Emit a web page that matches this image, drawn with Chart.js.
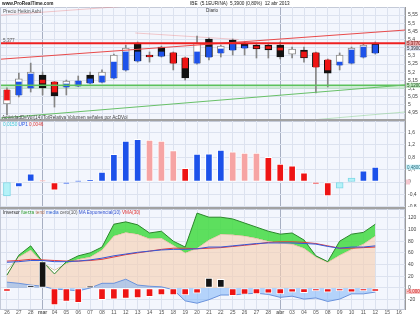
<!DOCTYPE html>
<html><head><meta charset="utf-8">
<script src="https://cdn.jsdelivr.net/npm/chart.js@4.4.1/dist/chart.umd.min.js"></script>
<style>
html,body{margin:0;padding:0;background:#fff;width:420px;height:315px;overflow:hidden;font-family:"Liberation Sans",Arial,sans-serif;}
canvas{position:absolute;left:0;}
.t{position:absolute;white-space:nowrap;font-size:6px;line-height:6px;color:#444;z-index:5;transform:scale(0.78);transform-origin:0 0;}
.sep{position:absolute;left:0;width:406px;height:2px;background:#a2a2a2;z-index:4;}
</style></head><body>
<canvas id="c1" width="420" height="119" style="top:0px"></canvas>
<canvas id="c2" width="420" height="86" style="top:121px"></canvas>
<canvas id="c3" width="420" height="106" style="top:209px"></canvas>
<div class="sep" style="top:119px"></div>
<div class="sep" style="top:207px"></div>
<div class="t" style="left:2px;top:1px;font-weight:bold;color:#222">www.ProRealTime.com</div>
<div class="t" style="left:190px;top:1px;color:#222">IBE &nbsp;(5.1EUR/NA) &nbsp;5,3900 (0,80%) &nbsp;12 abr 2013</div>
<div class="t" style="left:206px;top:8px;color:#333">Diario</div>
<div class="t" style="left:3px;top:9px;color:#555">Precio Heikin Ashi</div>
<div class="t" style="left:3px;top:38px;color:#555">5,377</div>
<div class="t" style="left:2px;top:115px;color:#444">ActividadDeVol(14) TotRelativa Volumen señales por AcDVol</div>
<div class="t" style="left:3px;top:122px"><span style="color:#40c8d8">0,0150</span> <span style="color:#2050e0">UP1</span> <span style="color:#e04040">0,0046</span></div>
<div class="t" style="left:3px;top:210px"><span style="color:#222">Inversor</span> <span style="color:#2a9a2a">fuerza</span> <span style="color:#b07050">tend</span> <span style="color:#3060d0">media</span> <span style="color:#555">cero(10)</span> <span style="color:#3050d0">MA Exponencial(10)</span> <span style="color:#e03030">VMA(30)</span></div>
<script>
// ---------- data ----------
const categories = ['26','27','28','mar','04','05','06','07','08','11','12','13','14','15','18','19','20','21','22','25','26','27','28','abr','03','04','05','08','09','10','11','12','15','16'];

const haOpen   = [5.006,5.061,5.104,5.183,5.140,5.110,5.116,5.183,5.140,5.165,5.214,5.379,5.305,5.354,5.318,5.287,5.256,5.403,5.318,5.397,5.379,5.366,5.366,5.366,5.311,5.336,5.318,5.275,5.244,5.256,5.293,5.379,null,null];
const haClose  = [5.091,5.159,5.201,5.104,5.055,5.146,5.146,5.134,5.201,5.305,5.348,5.269,5.293,5.299,5.256,5.165,5.379,5.293,5.360,5.336,5.348,5.342,5.336,5.293,5.342,5.287,5.232,5.195,5.305,5.348,5.366,5.318,null,null];
const priceOpen  = [5.091,5.061,5.104,5.152,5.140,5.110,5.116,5.134,5.140,5.165,5.214,5.269,5.302,5.299,5.318,5.287,5.256,5.293,5.318,5.336,5.348,5.357,5.357,5.348,null,5.324,5.318,5.275,5.244,5.256,5.293,5.318,null,null];
const priceClose = [5.030,5.140,5.189,5.134,5.079,5.128,5.146,5.159,5.177,5.262,5.324,5.324,5.296,5.324,5.256,5.226,5.324,5.354,5.342,5.379,5.360,5.348,5.345,5.336,null,5.293,5.232,5.214,5.262,5.336,5.354,5.366,null,null];
const priceHigh  = [5.104,5.195,5.256,5.201,5.143,5.152,5.177,5.201,5.214,5.311,5.366,5.385,5.324,5.360,5.324,5.293,5.421,5.409,5.366,5.403,5.385,5.372,5.372,5.385,5.354,5.354,5.324,5.281,5.318,5.354,5.372,5.385,null,null];
const priceLow   = [4.939,5.049,5.079,5.061,4.987,5.061,5.112,5.128,5.134,5.159,5.207,5.262,5.262,5.293,5.214,5.152,5.250,5.275,5.293,5.305,5.305,5.287,5.287,5.281,5.287,5.262,5.073,5.110,5.214,5.250,5.287,5.311,null,null];

const lastPrice = 5.39;
const resistanceLevel = 5.377;
const supportLevel = 5.12;
const supportBandLow = 5.098;
// trend lines: price at left edge, price at right edge of the plot
const trendUpper   = [5.28, 5.458];
const channelUpper = [5.549, 5.727];
const trendLower   = [4.92, 5.122];
const channelLower = [4.745, 4.957];
// short line: [category index, price] anchors
const shortLine    = [[10.8, 5.44], [19.5, 5.40]];

const priceTicks = {min: 4.914, max: 5.599, step: 0.05};

const histValues = [-0.45,-0.16,0.26,0.06,-0.26,-0.06,0.04,0.07,0.32,0.89,1.32,1.38,1.35,1.32,1.01,0.44,0.90,0.91,1.03,0.97,0.93,0.93,0.80,0.58,0.52,0.30,-0.06,-0.45,-0.20,0.13,0.36,0.48,null,null];
const histSignal = ['u','U','U','d','D','U','U','U','U','U','U','U','d','d','d','D','U','U','U','d','d','d','D','D','D','D','D','D','u','u','U','U',null,null];
const histTicks = {min: -0.806, max: 1.968, step: 0.2};

const fuerza    = [22,56,72,45,24,45,55,60,70,109,113,108,94,97,80,70,128,121,121,118,111,104,97,92,94,82,55,45,80,92,95,109,null,null];
const tendencia = [30,53,65,43,30,42,49,53,65,89,95,92,84,85,73,60,68,82,92,91,89,85,80,77,75,68,53,44,56,66,75,89,null,null];
const mediaExp  = [44,45,47,47,45,45,46,48,51,55,58,61,63,65,66,66,67,70,70,72,74,76,77,77,77,76,75,71,68,70,70,72,null,null];
const vma30     = [46,47,49,48,47,46,46,47,49,53,57,60,63,66,68,68,67,68,69,71,73,75,78,79,79,78,76,72,68,68,69,70,null,null];
const cero      = [10,8,5,3,-2,-3,-5,0,8,8,15,5,3,2,-3,-22,-26,-20,-12,-12,-10,-9,-11,-16,-14,-19,-17,-23,-19,-10,-10,-7,null,null];
const inversor  = [-6,null,4,45,-29,-23,-25,3,-20,-19,-18,-17,-15,-12,-12,-12,-9,17,15,-13,-11,-10,-9,-10,-7,-8,-5,-7,-5,-7,-5,-6,null,null];
const trendTicks = {min: -35.9, max: 135, step: 20};

// ---------- helpers ----------
const N = categories.length;
const FONT = '"Liberation Sans", Arial, sans-serif';
Chart.defaults.font.family = FONT;
const isMonth = i => isNaN(Number(categories[i]));
const fmt = (v, d) => Number(v.toFixed(d)).toString().replace('.', ',');
const fmtFixed = (v, d) => v.toFixed(d).replace('.', ',');
const lastIdx = arr => { let k = -1; arr.forEach((v,i)=>{ if (v!=null) k=i; }); return k; };

function xAxis(showLabels){
  return {
    type:'category', offset:true,
    grid:{offset:false, drawTicks:false, color: c => (c.index!=null && isMonth(c.index)) ? '#a7afc2' : '#dce2ef', lineWidth:1},
    border:{display:false},
    ticks:{display:showLabels, autoSkip:false, maxRotation:0, minRotation:0, padding:1,
      font: c => ({size:5, family:FONT, weight: (c.index!=null && isMonth(c.index)) ? 'bold':'normal'}), color:'#555'},
    afterFit: s => { s.height = showLabels ? 6 : 0; s.paddingLeft = 0; s.paddingRight = 0; }
  };
}
function yAxis(t, decimals){
  return {
    position:'right', min:t.min, max:t.max,
    ticks:{stepSize:t.step, includeBounds:false, padding:3, font:{size:5, family:FONT}, color:'#444',
      callback: v => fmt(v, decimals)},
    grid:{drawTicks:false, color:'#dce2ef'},
    border:{display:true, color:'#9a9a9a'},
    afterFit: s => { s.width = 15; s.paddingTop = 0; s.paddingBottom = 0; }
  };
}
const bgPlugin = {id:'bg', beforeDraw(ch){
  const a = ch.chartArea, c = ch.ctx; c.save();
  c.fillStyle = '#f3f6fd'; c.fillRect(a.left, a.top, a.right-a.left, a.bottom-a.top);
  c.strokeStyle = '#c4cad8'; c.lineWidth = 1; c.strokeRect(a.left-0.5, a.top+0.5, a.right-a.left, a.bottom-a.top);
  c.restore();
}};
const boxPlugin = {id:'boxes', afterDraw(ch, args, opts){
  const y = ch.scales.y, c = ch.ctx, x0 = ch.chartArea.right + 1;
  let prevBottom = null;
  (opts.items||[]).forEach(it => {
    let py = (it.below && prevBottom!=null) ? prevBottom + 2.5 : y.getPixelForValue(it.value);
    const w = it.w || 14, h = 5;
    c.save();
    c.fillStyle = it.bg; c.fillRect(x0, py - h/2, w, h);
    if (it.text){ c.fillStyle = it.fg; c.font = '4.5px ' + FONT; c.textBaseline = 'middle'; c.fillText(it.text, x0 + 1, py + 0.3); }
    c.restore();
    prevBottom = py + h/2;
  });
}};
// price lines drawn through the chart's own scales
function strokeEdgeLine(ch, vals, color, width){
  const a = ch.chartArea, y = ch.scales.y, c = ch.ctx;
  c.save(); c.beginPath(); c.rect(a.left, a.top, a.right-a.left, a.bottom-a.top); c.clip();
  c.strokeStyle = color; c.lineWidth = width; c.beginPath();
  c.moveTo(a.left, y.getPixelForValue(vals[0])); c.lineTo(a.right, y.getPixelForValue(vals[1])); c.stroke();
  c.restore();
}
const levelsPlugin = {id:'levels',
  beforeDatasetsDraw(ch){
    const a = ch.chartArea, y = ch.scales.y, c = ch.ctx;
    const y1 = y.getPixelForValue(supportLevel), y2 = y.getPixelForValue(supportBandLow);
    c.save(); c.fillStyle = 'rgba(140,215,140,0.35)'; c.fillRect(a.left, y1, a.right-a.left, y2-y1); c.restore();
    strokeEdgeLine(ch, channelUpper, 'rgba(235,110,110,0.35)', 1);
    strokeEdgeLine(ch, channelLower, 'rgba(110,200,110,0.4)', 1);
    const x = ch.scales.x;
    c.save(); c.strokeStyle = 'rgba(235,110,110,0.35)'; c.lineWidth = 1; c.beginPath();
    c.moveTo(x.getPixelForValue(shortLine[0][0]), y.getPixelForValue(shortLine[0][1]));
    c.lineTo(x.getPixelForValue(shortLine[1][0]), y.getPixelForValue(shortLine[1][1])); c.stroke(); c.restore();
  },
  afterDatasetsDraw(ch){
    strokeEdgeLine(ch, [supportLevel, supportLevel], '#5cc25c', 1.5);
    strokeEdgeLine(ch, trendLower, '#68c068', 1);
    strokeEdgeLine(ch, trendUpper, '#e84a4a', 1);
    strokeEdgeLine(ch, [resistanceLevel, resistanceLevel], '#ee2020', 2);
  }
};
const common = {responsive:false, animation:false, events:[],
  plugins:{legend:{display:false}, tooltip:{enabled:false}}};

// ---------- chart 1: price ----------
const BLUE = '#1d52ea', RED = '#ee1414';
new Chart(document.getElementById('c1'), {
  type:'bar',
  data:{labels:categories, datasets:[
    {label:'inner', grouped:false, order:1, barThickness:5,
      data: priceOpen.map((o,i) => o==null ? null : [o, priceClose[i]]),
      backgroundColor: c => priceClose[c.dataIndex] >= priceOpen[c.dataIndex] ? BLUE : RED},
    {label:'ha', grouped:false, order:2, barThickness:7, borderWidth:1, borderSkipped:false,
      data: haOpen.map((o,i) => o==null ? null : [o, haClose[i]]),
      backgroundColor: c => haClose[c.dataIndex] >= haOpen[c.dataIndex] ? '#ffffff' : '#121212',
      borderColor: c => haClose[c.dataIndex] >= haOpen[c.dataIndex] ? '#8c8c8c' : '#121212'},
    {label:'wick', grouped:false, order:3, barThickness:1,
      data: priceHigh.map((h,i) => h==null ? null : [priceLow[i], h]), backgroundColor:'#858585'}
  ]},
  options: Object.assign({}, common, {
    layout:{padding:{top:7, left:1, right:0, bottom:0}},
    scales:{ x: xAxis(false), y: yAxis(priceTicks, 2) },
    plugins: Object.assign({}, common.plugins, {boxes:{items:[
      {value:resistanceLevel, text:fmtFixed(resistanceLevel,4), bg:'#e9a2a2', fg:'#7a1818'},
      {below:true, text:fmtFixed(lastPrice,4), bg:'#dde1f2', fg:'#333'},
      {value:supportLevel, text:fmtFixed(supportLevel,4), bg:'#bde6bd', fg:'#1e501e'}
    ]}})
  }),
  plugins:[bgPlugin, levelsPlugin, boxPlugin]
});

// ---------- chart 2: histogram ----------
const sigColor = {U:'#1d52ea', u:'#b4f2f8', D:'#ee1414', d:'#f6a4a4'};
const hLast = lastIdx(histValues);
new Chart(document.getElementById('c2'), {
  type:'bar',
  data:{labels:categories, datasets:[{
    data: histValues, barThickness:7, borderWidth:1, borderSkipped:false,
    backgroundColor: c => sigColor[histSignal[c.dataIndex]] || '#ccc',
    borderColor: c => histSignal[c.dataIndex]==='u' ? '#7fd8e6' : '#ffffff'
  }]},
  options: Object.assign({}, common, {
    layout:{padding:{top:0, left:1, right:0, bottom:0}},
    scales:{x: xAxis(false), y: yAxis(histTicks, 1)},
    plugins: Object.assign({}, common.plugins, {boxes:{items:[
      {value:histValues[hLast], text:fmtFixed(histValues[hLast],4), bg:'#c8f2fa', fg:'#2a6a7a'},
      {value:0, text:'', bg:'#f6c8d0', w:4}
    ]}})
  }),
  plugins:[bgPlugin, boxPlugin]
});

// ---------- chart 3: trend / strength ----------
const iLast = lastIdx(inversor);
new Chart(document.getElementById('c3'), {
  type:'bar',
  data:{labels:categories, datasets:[
    {type:'line', label:'tend', data:tendencia, borderColor:'#e8b094', borderWidth:1, pointRadius:0,
      fill:'origin', backgroundColor:'rgba(246,206,178,0.62)', order:6},
    {type:'line', label:'fuerza', data:fuerza, borderColor:'#2c862c', borderWidth:1, pointRadius:0,
      fill:{target:0, above:'rgba(66,218,66,0.85)', below:'rgba(255,255,255,0.9)'}, order:5},
    {type:'line', label:'cero', data:cero, borderColor:'#6b93dc', borderWidth:1, pointRadius:0,
      fill:'origin', backgroundColor:'rgba(128,182,250,0.55)', order:4},
    {type:'bar', label:'inversor', data:inversor, barThickness:7, borderWidth:1, borderSkipped:false,
      backgroundColor: c => inversor[c.dataIndex] >= 0 ? '#141414' : '#ee1414', borderColor:'#ffffff', order:3},
    {type:'line', label:'vma', data:vma30, borderColor:'#e23c3c', borderWidth:1, pointRadius:0, fill:false, order:2},
    {type:'line', label:'ema', data:mediaExp, borderColor:'#3658d8', borderWidth:1, pointRadius:0, fill:false, order:1}
  ]},
  options: Object.assign({}, common, {
    layout:{padding:{top:0, left:1, right:0, bottom:0}},
    scales:{x: xAxis(true), y: yAxis(trendTicks, 0)},
    plugins: Object.assign({}, common.plugins, {boxes:{items:[
      {value:inversor[iLast], text:fmtFixed(inversor[iLast],4), bg:'#f8c6c6', fg:'#d02020'}
    ]}})
  }),
  plugins:[bgPlugin, boxPlugin]
});
</script>
</body></html>
